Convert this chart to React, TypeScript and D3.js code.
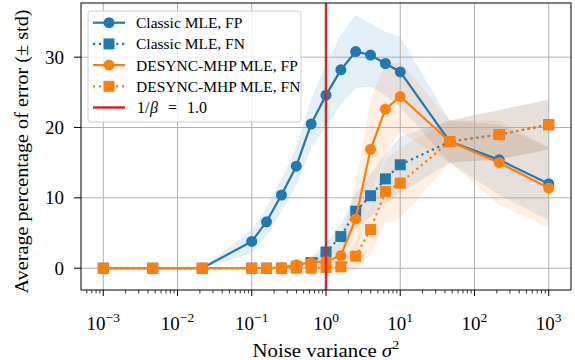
import React from "react";
import * as d3 from "d3";

const noiseVariance = [0.001, 0.00464, 0.0215, 0.1, 0.158, 0.251, 0.398, 0.631, 1, 1.585, 2.512, 3.981, 6.31, 10, 46.4, 215.4, 1000];
const classicFP = [0, 0, 0, 3.8, 6.6, 10.4, 14.5, 20.5, 24.6, 28.2, 30.8, 30.3, 29.1, 27.9, 18.0, 15.4, 12.0];
const classicFPStd = [0, 0, 0, 1.7, 2.0, 2.3, 2.7, 3.5, 4.5, 5.0, 5.2, 4.5, 4.5, 5.0, 3.0, 5.0, 5.2];
const classicFN = [0, 0, 0, 0, 0, 0, 0.2, 0.8, 2.3, 4.5, 8.1, 10.3, 12.7, 14.7, 18.0, 19.0, 20.4];
const classicFNStd = [0, 0, 0, 0, 0, 0, 0.3, 0.8, 1.2, 1.8, 2.5, 3.0, 3.5, 4.0, 3.0, 3.5, 3.5];
const desyncFP = [0, 0, 0, 0, 0, 0.1, 0.5, 0.8, 1.0, 1.8, 7.0, 16.9, 22.6, 24.4, 18.0, 15.0, 11.4];
const desyncFPStd = [0, 0, 0, 0, 0, 0.3, 0.6, 0.9, 1.2, 2.0, 5.0, 7.0, 6.5, 5.0, 3.0, 6.0, 5.7];
const desyncFN = [0, 0, 0, 0, 0, 0, 0, 0, 0.1, 0.2, 1.7, 5.5, 10.9, 12.1, 18.0, 19.0, 20.4];
const desyncFNStd = [0, 0, 0, 0, 0, 0, 0, 0.2, 0.4, 1.0, 2.0, 3.5, 4.5, 5.0, 3.0, 3.5, 3.6];

const xTickExps = [-3, -2, -1, 0, 1, 2, 3];
const yTicks = [0, 10, 20, 30];
const betaInv = 1.0;

const W = 575, H = 360;
const L = 81, R = 571, T = 3, B = 290;
const BLUE = "#1f77b4", ORANGE = "#ff7f0e", RED = "#d62728";
const FONT = "'Liberation Serif', 'DejaVu Serif', serif";

type Series = { label: string; mean: number[]; std: number[]; color: string; dotted: boolean; marker: "circle" | "square" };
const series: Series[] = [
  { label: "Classic MLE, FP", mean: classicFP, std: classicFPStd, color: BLUE, dotted: false, marker: "circle" },
  { label: "Classic MLE, FN", mean: classicFN, std: classicFNStd, color: BLUE, dotted: true, marker: "square" },
  { label: "DESYNC-MHP MLE, FP", mean: desyncFP, std: desyncFPStd, color: ORANGE, dotted: false, marker: "circle" },
  { label: "DESYNC-MHP MLE, FN", mean: desyncFN, std: desyncFNStd, color: ORANGE, dotted: true, marker: "square" },
];

const LW = 2.2;
const DASH = "2.2,3.6";
const MR = 5.5;

function Marker({ kind, x, y, color }: { kind: string; x: number; y: number; color: string }) {
  if (kind === "circle") return <circle cx={x} cy={y} r={MR} fill={color} />;
  return <rect x={x - MR} y={y - MR} width={MR * 2} height={MR * 2} fill={color} />;
}

export default function App() {
  const x = d3.scaleLog().domain([Math.pow(10, -3.3), Math.pow(10, 3.3)]).range([L, R]);
  const y = d3.scaleLinear().domain([-3.1, 37.7]).range([B, T]);

  const line = d3.line<number>().x((_, i) => x(noiseVariance[i])).y((d) => y(d));
  const area = (m: number[], s: number[]) =>
    d3.area<number>().x((_, i) => x(noiseVariance[i])).y0((d, i) => y(d - s[i])).y1((d, i) => y(d + s[i]))(m) || "";

  const minorTicks: number[] = [];
  for (let e = -4; e <= 3; e++) {
    for (let k = 2; k <= 9; k++) {
      const v = k * Math.pow(10, e);
      if (v >= x.domain()[0] && v <= x.domain()[1]) minorTicks.push(v);
    }
  }

  const legendRows = [...series.map((s) => s.label), "beta"];

  return (
    <svg width={W} height={H} style={{ position: "absolute", left: 0, top: 0 }} fontFamily={FONT}>
      <rect x={0} y={0} width={W} height={H} fill="white" />
      <defs>
        <clipPath id="plotclip">
          <rect x={L} y={T} width={R - L} height={B - T} />
        </clipPath>
      </defs>
      <g clipPath="url(#plotclip)">
        {series.map((s, i) => (
          <path key={"band" + i} d={area(s.mean, s.std)} fill={s.color} fillOpacity={0.12} stroke="none" />
        ))}
        {xTickExps.map((e) => (
          <line key={"gx" + e} x1={x(Math.pow(10, e))} x2={x(Math.pow(10, e))} y1={T} y2={B} stroke="#b0b0b0" strokeWidth={1} />
        ))}
        {yTicks.map((t) => (
          <line key={"gy" + t} x1={L} x2={R} y1={y(t)} y2={y(t)} stroke="#b0b0b0" strokeWidth={1} />
        ))}
        {series.map((s, i) => (
          <g key={"s" + i}>
            <path d={line(s.mean) || ""} fill="none" stroke={s.color} strokeWidth={LW} strokeDasharray={s.dotted ? DASH : undefined} />
            {s.mean.map((v, j) => (
              <Marker key={j} kind={s.marker} x={x(noiseVariance[j])} y={y(v)} color={s.color} />
            ))}
          </g>
        ))}
        <line x1={x(betaInv)} x2={x(betaInv)} y1={T} y2={B} stroke={RED} strokeWidth={2.5} />
      </g>
      {/* frame */}
      <rect x={L} y={T} width={R - L} height={B - T} fill="none" stroke="black" strokeWidth={1} />
      {/* x ticks */}
      {xTickExps.map((e) => (
        <g key={"xt" + e}>
          <line x1={x(Math.pow(10, e))} x2={x(Math.pow(10, e))} y1={B} y2={B + 6} stroke="black" strokeWidth={1} />
          <text x={x(Math.pow(10, e))} y={B + 40} textAnchor="middle" fontSize={19}>
            10
            <tspan dy={-8} fontSize={13.5}>{e < 0 ? "\u2212" + Math.abs(e) : String(e)}</tspan>
          </text>
        </g>
      ))}
      {minorTicks.map((v, i) => (
        <line key={"mt" + i} x1={x(v)} x2={x(v)} y1={B} y2={B + 3.5} stroke="black" strokeWidth={0.8} />
      ))}
      {/* y ticks */}
      {yTicks.map((t) => (
        <g key={"yt" + t}>
          <line x1={L - 7} x2={L} y1={y(t)} y2={y(t)} stroke="black" strokeWidth={1} />
          <text x={L - 17} y={y(t) + 6.5} textAnchor="end" fontSize={19}>{t}</text>
        </g>
      ))}
      <text x={(L + R) / 2} y={357} textAnchor="middle" fontSize={19} textLength={147} lengthAdjust="spacingAndGlyphs">
        Noise variance <tspan fontStyle="italic">σ</tspan>
        <tspan dy={-8} fontSize={13.5}>2</tspan>
      </text>
      <text transform={`translate(28, ${(T + B) / 2 + 5}) rotate(-90)`} textAnchor="middle" fontSize={19} textLength={284} lengthAdjust="spacingAndGlyphs">
        Average percentage of error (± std)
      </text>
      {/* legend */}
      <g>
        <rect x={88} y={11} width={213} height={111} rx={3} fill="white" fillOpacity={0.8} stroke="#cccccc" strokeWidth={1} />
        {legendRows.map((r, i) => {
          const cy = 22.7 + i * 21.2;
          if (r === "beta") {
            return (
              <g key="lb">
                <line x1={93} x2={125} y1={cy} y2={cy} stroke={RED} strokeWidth={2.5} />
                <text y={cy + 5.5} fontSize={16}>
                  <tspan x={137}>1/</tspan>
                  <tspan x={150} fontStyle="italic">β</tspan>
                  <tspan x={168}>=</tspan>
                  <tspan x={187}>1.0</tspan>
                </text>
              </g>
            );
          }
          const s = series[i];
          return (
            <g key={"l" + i}>
              <line x1={93} x2={125} y1={cy} y2={cy} stroke={s.color} strokeWidth={LW} strokeDasharray={s.dotted ? DASH : undefined} />
              <Marker kind={s.marker} x={109} y={cy} color={s.color} />
              <text x={136} y={cy + 5.5} fontSize={15.5}>{s.label}</text>
            </g>
          );
        })}
      </g>
    </svg>
  );
}
